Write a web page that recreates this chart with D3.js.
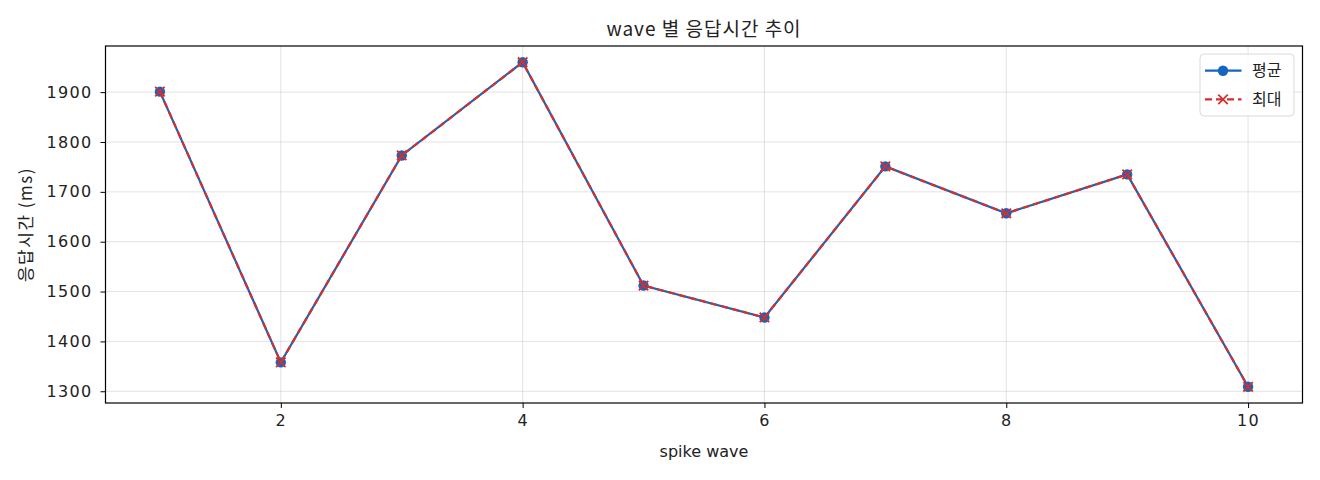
<!DOCTYPE html>
<html>
<head>
<meta charset="utf-8">
<script src="https://cdn.jsdelivr.net/npm/d3@7"></script>
<style>
  body { margin: 0; background: #fff; }
  text { font-family: "DejaVu Sans", "Noto Sans CJK KR", sans-serif; fill: #222; }
  .kr { font-family: "Noto Sans CJK KR", "DejaVu Sans", sans-serif; }
</style>
</head>
<body>
<div id="chart"></div>
<script>
// data
var waves = [1, 2, 3, 4, 5, 6, 7, 8, 9, 10];
var avgMs = [1901, 1358, 1773, 1960, 1512, 1448, 1751, 1657, 1735, 1309];
var maxMs = [1901, 1358, 1773, 1960, 1512, 1448, 1751, 1657, 1735, 1309];
var xTicks = [2, 4, 6, 8, 10];
var yTicks = [1300, 1400, 1500, 1600, 1700, 1800, 1900];
var seriesNames = ["평균", "최대"];

var W = 1320, H = 480;
var margin = { top: 46, right: 17.5, bottom: 77, left: 105.5 },
  width = W - margin.left - margin.right,
  height = H - margin.top - margin.bottom;

var blue = "#1565c0", red = "#d32f2f";

var svg = d3.select("#chart")
  .append("svg")
  .attr("width", W)
  .attr("height", H);

var g = svg.append("g")
  .attr("transform", "translate(" + margin.left + "," + margin.top + ")");

// matplotlib-like 5% padding on both axes
var xPad = (d3.max(waves) - d3.min(waves)) * 0.05;
var allY = avgMs.concat(maxMs);
var yPad = (d3.max(allY) - d3.min(allY)) * 0.05;

var x = d3.scaleLinear()
  .domain([d3.min(waves) - xPad, d3.max(waves) + xPad])
  .range([0, width]);

var y = d3.scaleLinear()
  .domain([d3.min(allY) - yPad, d3.max(allY) + yPad])
  .range([height, 0]);

// grid
g.append("g").selectAll("line")
  .data(yTicks).enter().append("line")
  .attr("x1", 0).attr("x2", width)
  .attr("y1", d => y(d)).attr("y2", d => y(d))
  .attr("stroke", "#b0b0b0").attr("stroke-opacity", 0.35).attr("stroke-width", 1);
g.append("g").selectAll("line")
  .data(xTicks).enter().append("line")
  .attr("y1", 0).attr("y2", height)
  .attr("x1", d => x(d)).attr("x2", d => x(d))
  .attr("stroke", "#b0b0b0").attr("stroke-opacity", 0.35).attr("stroke-width", 1);

// axes
var xAxis = g.append("g")
  .attr("transform", "translate(0," + height + ")")
  .call(d3.axisBottom(x).tickValues(xTicks).tickSize(5).tickPadding(7).tickFormat(d3.format("d")));
var yAxis = g.append("g")
  .call(d3.axisLeft(y).tickValues(yTicks).tickSize(5).tickPadding(8).tickFormat(d3.format("d")));

[xAxis, yAxis].forEach(function (a) {
  a.select(".domain").remove();
  a.selectAll(".tick line").attr("stroke", "#000").attr("stroke-width", 1);
  a.selectAll(".tick text")
    .attr("fill", "#222")
    .style("font-size", "16px")
    .style("letter-spacing", "1.3px")
    .style("font-family", "'DejaVu Sans', sans-serif");
});

// frame
g.append("rect")
  .attr("width", width).attr("height", height)
  .attr("fill", "none").attr("stroke", "#000").attr("stroke-width", 1.2);

// lines
var line = d3.line()
  .x((d, i) => x(waves[i]))
  .y(d => y(d));

g.append("path")
  .datum(avgMs)
  .attr("d", line)
  .attr("fill", "none")
  .attr("stroke", blue)
  .attr("stroke-width", 2.2);

g.selectAll(".avgDot")
  .data(avgMs).enter().append("circle")
  .attr("class", "avgDot")
  .attr("cx", (d, i) => x(waves[i]))
  .attr("cy", d => y(d))
  .attr("r", 5.2)
  .attr("fill", blue);

g.append("path")
  .datum(maxMs)
  .attr("d", line)
  .attr("fill", "none")
  .attr("stroke", red)
  .attr("stroke-width", 2.2)
  .attr("stroke-dasharray", "7,4");

var cross = d3.symbol().type(d3.symbolX).size(60);
g.selectAll(".maxMark")
  .data(maxMs).enter().append("path")
  .attr("class", "maxMark")
  .attr("transform", (d, i) => "translate(" + x(waves[i]) + "," + y(d) + ")")
  .attr("d", cross)
  .attr("fill", "none")
  .attr("stroke", red)
  .attr("stroke-width", 1.8);

// legend
var lg = g.append("g").attr("transform", "translate(" + (width - 102.5) + ",8)");
lg.append("rect")
  .attr("width", 94).attr("height", 62).attr("rx", 4)
  .attr("fill", "#fff").attr("fill-opacity", 0.8)
  .attr("stroke", "#d9d9d9").attr("stroke-width", 1);

lg.append("line").attr("x1", 5).attr("x2", 41.5).attr("y1", 16.7).attr("y2", 16.7)
  .attr("stroke", blue).attr("stroke-width", 2.2);
lg.append("circle").attr("cx", 23).attr("cy", 16.7).attr("r", 5.2).attr("fill", blue);
lg.append("text").attr("class", "kr").attr("x", 52).attr("y", 16.7).attr("dy", "0.35em")
  .style("font-size", "16px").text(seriesNames[0]);

lg.append("line").attr("x1", 5).attr("x2", 41.5).attr("y1", 45.3).attr("y2", 45.3)
  .attr("stroke", red).attr("stroke-width", 2.2).attr("stroke-dasharray", "7,4");
lg.append("path").attr("transform", "translate(23,45.3)")
  .attr("d", cross)
  .attr("fill", "none").attr("stroke", red).attr("stroke-width", 1.8);
lg.append("text").attr("class", "kr").attr("x", 52).attr("y", 45.3).attr("dy", "0.35em")
  .style("font-size", "16px").text(seriesNames[1]);

// title and labels
svg.append("text")
  .attr("class", "kr")
  .attr("x", margin.left + width / 2).attr("y", 36)
  .attr("text-anchor", "middle")
  .style("font-size", "19px")
  .style("letter-spacing", "1px")
  .text("wave 별 응답시간 추이");

svg.append("text")
  .attr("x", margin.left + width / 2).attr("y", 457)
  .attr("text-anchor", "middle")
  .style("font-size", "16px")
  .text("spike wave");

svg.append("text")
  .attr("class", "kr")
  .attr("transform", "translate(32," + (margin.top + height / 2) + ") rotate(-90)")
  .attr("text-anchor", "middle")
  .style("font-size", "17px")
  .style("letter-spacing", "1.5px")
  .text("응답시간 (ms)");
</script>
</body>
</html>
